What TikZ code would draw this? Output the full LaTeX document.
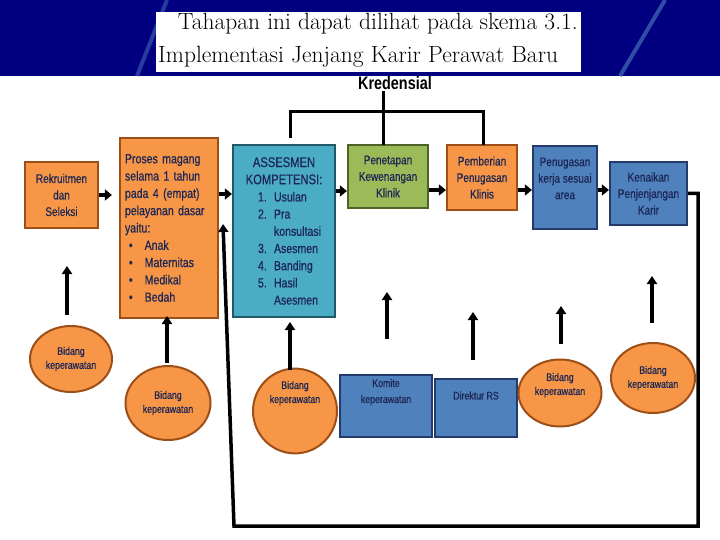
\documentclass[tikz,border=0pt]{standalone}
\usepackage{fontspec}
\newfontfamily\cond[FakeStretch=0.8, FakeBold=0.6]{Liberation Sans}
\newfontfamily\condb[FakeStretch=0.8]{Liberation Sans}
\usetikzlibrary{arrows.meta,shapes.geometric}
\definecolor{navyband}{HTML}{000080}
\definecolor{streak}{HTML}{3F66B5}
\definecolor{ofill}{HTML}{F79646}
\definecolor{obrd}{HTML}{9E4F17}
\definecolor{tfill}{HTML}{4BACC6}
\definecolor{tbrd}{HTML}{215968}
\definecolor{bfill}{HTML}{4F81BD}
\definecolor{bbrd}{HTML}{243A6A}
\definecolor{gfill}{HTML}{9BBB59}
\definecolor{gbrd}{HTML}{4F6228}
\definecolor{txt}{HTML}{1C2756}
\tikzset{
  basebox/.style={rectangle, line width=2.2pt, inner sep=0pt, text=txt, align=center,
    font=\cond\fontsize{12.5}{16.5}\selectfont},
  obox/.style={basebox, draw=obrd, fill=ofill},
  tbox/.style={basebox, draw=tbrd, fill=tfill},
  bbox/.style={basebox, draw=bbrd, fill=bfill},
  gbox/.style={basebox, draw=gbrd, fill=gfill},
  oell/.style={ellipse, draw=obrd, fill=ofill, line width=2pt, inner sep=0pt, text=txt,
    align=center, font=\cond\fontsize{11}{14}\selectfont},
  harr/.style={line width=4pt, -{Triangle[length=7pt,width=11pt]}},
  uarr/.style={line width=3.5pt, -{Triangle[length=8pt,width=10pt]}},
  brk/.style={line width=3pt, line cap=rect},
}
\begin{document}
\begin{tikzpicture}[x=1pt,y=-1pt]
\useasboundingbox (0,0) rectangle (720,540);
\fill[white] (0,0) rectangle (720,540);
% top band
\fill[navyband] (0,0) rectangle (720,76);
\draw[streak, line width=4pt, opacity=0.6] (137,76) -- (167,0);
\draw[streak, line width=4pt, opacity=0.75] (620,76) -- (665,0);
\node (titlebox) [fill=white, minimum width=425pt, minimum height=60pt, inner sep=0pt, anchor=north west] at (156,12) {};
\node (t1) [anchor=east, inner sep=0pt, font=\fontsize{23.5}{26}\selectfont] at (578,24) {Tahapan ini dapat dilihat pada skema 3.1.};
\node (t2) [anchor=west, inner sep=0pt, font=\fontsize{23.5}{26}\selectfont] at (158,57) {Implementasi Jenjang Karir Perawat Baru};

% Kredensial
\node (kred) [inner sep=0pt, font=\condb\bfseries\fontsize{18}{20}\selectfont] at (395,83) {Kredensial};

% main boxes
\node (b1) [obox, minimum width=73pt, minimum height=66pt] at (61.5,195) {Rekruitmen\\dan\\Seleksi};
\node (b2) [obox, minimum width=98pt, minimum height=180pt, text width=88pt, align=left,
  font=\cond\fontsize{13.2}{17.3}\selectfont] at (169,228)
  {Proses magang\\selama 1 tahun\\pada 4 (empat)\\pelayanan dasar\\yaitu:\\
   \hspace*{4pt}\textbullet\hspace{12pt}Anak\\
   \hspace*{4pt}\textbullet\hspace{12pt}Maternitas\\
   \hspace*{4pt}\textbullet\hspace{12pt}Medikal\\
   \hspace*{4pt}\textbullet\hspace{12pt}Bedah};
\node (b3) [tbox, minimum width=102pt, minimum height=172pt, text width=92pt, align=left,
  font=\cond\fontsize{13.2}{17.2}\selectfont] at (284,231)
  {\centering{\fontsize{14}{17.2}\selectfont ASSESMEN\\KOMPETENSI:}\par\raggedright
   \hspace*{20pt}\makebox[16pt][l]{1.}Usulan\\
   \hspace*{20pt}\makebox[16pt][l]{2.}Pra\\
   \hspace*{36pt}konsultasi\\
   \hspace*{20pt}\makebox[16pt][l]{3.}Asesmen\\
   \hspace*{20pt}\makebox[16pt][l]{4.}Banding\\
   \hspace*{20pt}\makebox[16pt][l]{5.}Hasil\\
   \hspace*{36pt}Asesmen};
\node (b4) [gbox, minimum width=80pt, minimum height=63pt] at (388,176.5) {Penetapan\\Kewenangan\\Klinik};
\node (b5) [obox, minimum width=70pt, minimum height=65pt] at (482,177.5) {Pemberian\\Penugasan\\Klinis};
\node (b6) [bbox, minimum width=64pt, minimum height=83pt, anchor=north] at (565,145) {Penugasan\\kerja sesuai\\area\\[2pt]};
\node (b7) [bbox, minimum width=77pt, minimum height=63pt] at (648.5,193.5) {Kenaikan\\Penjenjangan\\Karir};

% bottom nodes
\node (e1) [oell, minimum width=82pt, minimum height=66pt] at (71,359) {Bidang\\keperawatan};
\node (e2) [oell, minimum width=85pt, minimum height=74pt] at (168,403) {Bidang\\keperawatan};
\node (e3) [oell, minimum width=84pt, minimum height=74pt] at (295,411) {Bidang\\keperawatan\\[24pt]};
\node (k1) [bbox, minimum width=92pt, minimum height=62pt, font=\cond\fontsize{11}{16}\selectfont] at (386,406) {Komite\\keperawatan\\[14pt]};
\node (d1) [bbox, minimum width=82pt, minimum height=58pt, font=\cond\fontsize{11}{15}\selectfont] at (476,408) {Direktur RS\\[10pt]};
\node (e4) [oell, minimum width=83pt, minimum height=67pt] at (560,393) {Bidang\\keperawatan\\[4pt]};
\node (e5) [oell, minimum width=84pt, minimum height=70pt] at (653,378) {Bidang\\keperawatan};

% horizontal arrows
\draw[harr, shorten >=7pt] (b1.east) -- (b1.east -| b2.west);
\draw[harr] (b2.east |- 0,194) -- (b3.west |- 0,194);
\draw[harr] (b3.east |- 0,191) -- (b4.west |- 0,191);
\draw[harr] (b4.east |- 0,190) -- (b5.west |- 0,190);
\draw[harr] (b5.east |- 0,190) -- (b6.west |- 0,190);
\draw[harr] (b6.east |- 0,190) -- (b7.west |- 0,190);

% Kredensial bracket
\coordinate (kb) at (383,112);
\coordinate (kl) at (290,112);
\coordinate (kr) at (483,112);
\draw[brk] (kred.south -| kb) ++(0,3) -- (kb);
\draw[brk] (kl) -- (kr);
\draw[brk] (kl) -- (290,137);
\draw[brk] (kb) -- (b4.north -| kb);
\draw[brk] (kr) -- (b5.north -| kr);

% upward arrows
\coordinate (a1s) at (67,315); \coordinate (a1e) at (67,266);
\coordinate (a2s) at (167,363); \coordinate (a2e) at (167,316);
\coordinate (a3s) at (290,370); \coordinate (a3e) at (290,322);
\coordinate (a4s) at (387,339); \coordinate (a4e) at (387,292);
\coordinate (a5s) at (473,360); \coordinate (a5e) at (473,312);
\coordinate (a6s) at (561,344); \coordinate (a6e) at (561,306);
\coordinate (a7s) at (652,323); \coordinate (a7e) at (652,276);
\foreach \i in {1,...,7} \draw[uarr] (a\i s) -- (a\i e);

% feedback loop
\coordinate (c1) at (698,193.5);
\coordinate (c2) at (698,526);
\coordinate (c3) at (234,526);
\coordinate (c4) at (223,224);
\draw[line width=3.5pt, line join=miter, -{Triangle[length=8pt,width=10pt]}]
  (b7.east) -- (c1) -- (c2) -- (c3) -- (c4);
\end{tikzpicture}
\end{document}
